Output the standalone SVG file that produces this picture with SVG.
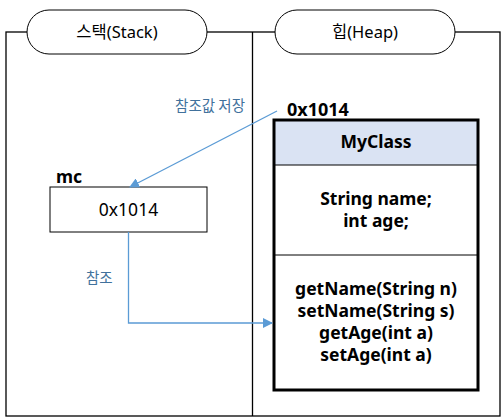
<svg xmlns="http://www.w3.org/2000/svg" width="504" height="418" viewBox="0 0 504 418">
<defs>
<marker id="ah" viewBox="0 0 10 10" refX="9" refY="5" markerWidth="10" markerHeight="10" markerUnits="userSpaceOnUse" orient="auto">
<path d="M0,0 L10,5 L0,10 z" fill="#5b9bd5"/>
</marker>
<style>
.frame{fill:none;stroke:#000;stroke-width:1.3}
.pill{fill:#fff;stroke:#000;stroke-width:1}
.t{font-family:"Noto Sans","Noto Sans CJK KR",sans-serif;fill:#000}
.h{font-size:16.5px;text-anchor:middle}
.b{font-weight:bold}
.lbl{font-family:"Noto Sans CJK KR","Noto Sans",sans-serif;font-size:14.5px;fill:#41719c}
.conn{fill:none;stroke:#5b9bd5;stroke-width:1.3}
.cls{font-size:17.5px;font-weight:bold;text-anchor:middle}
</style>
</defs>
<rect width="504" height="418" fill="#fff"/>
<g id="frame">
<rect class="frame" x="6" y="32" width="494" height="384"/>
<line class="frame" x1="252.5" y1="32" x2="252.5" y2="416"/>
</g>
<g id="stack-header">
<rect class="pill" x="27" y="10" width="180" height="44" rx="22"/>
<text class="t h" x="117" y="38">스택(Stack)</text>
</g>
<g id="heap-header">
<rect class="pill" x="275" y="10" width="180" height="44" rx="22"/>
<text class="t h" x="365" y="38">힙(Heap)</text>
</g>
<g id="mc">
<text class="t b" x="56" y="183" font-size="17.5">mc</text>
<rect x="50" y="187" width="157" height="45" fill="#fff" stroke="#000" stroke-width="1"/>
<text class="t" x="128.5" y="216" font-size="17.5" text-anchor="middle">0x1014</text>
</g>
<g id="myclass">
<text class="t b" x="287" y="116" font-size="18">0x1014</text>
<rect x="274" y="120" width="204" height="45" fill="#dae3f3"/>
<rect x="274" y="120" width="204" height="270" fill="none" stroke="#000" stroke-width="3"/>
<line x1="274" y1="165" x2="478" y2="165" stroke="#000" stroke-width="1"/>
<line x1="274" y1="255" x2="478" y2="255" stroke="#000" stroke-width="1"/>
<text class="t cls" x="376" y="148">MyClass</text>
<text class="t cls" x="376" y="205">String name;</text>
<text class="t cls" x="376" y="227">int age;</text>
<text class="t cls" x="376" y="295">getName(String n)</text>
<text class="t cls" x="376" y="317">setName(String s)</text>
<text class="t cls" x="376" y="339">getAge(int a)</text>
<text class="t cls" x="376" y="361">setAge(int a)</text>
</g>
<g id="connectors">
<line class="conn" x1="277" y1="111" x2="130" y2="187" marker-end="url(#ah)"/>
<polyline class="conn" points="128.5,232 128.5,323 272,323" marker-end="url(#ah)"/>
<text class="lbl" x="245" y="111" text-anchor="end">참조값 저장</text>
<text class="lbl" x="86" y="283">참조</text>
</g>
</svg>
